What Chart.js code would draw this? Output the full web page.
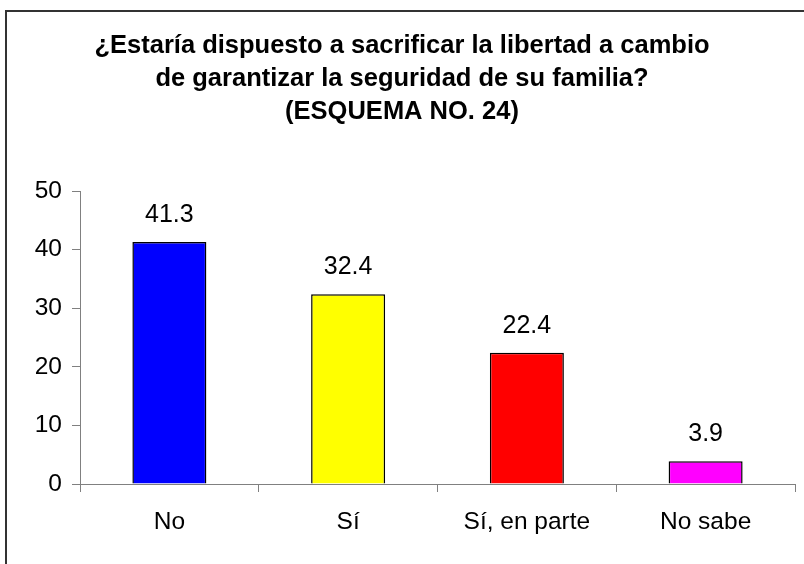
<!DOCTYPE html>
<html>
<head>
<meta charset="utf-8">
<script src="https://cdn.jsdelivr.net/npm/chart.js@4/dist/chart.umd.min.js"></script>
<style>
html,body{margin:0;padding:0;background:#fff;}
#wrap{width:804px;height:564px;position:relative;}
</style>
</head>
<body>
<div id="wrap"><canvas id="c" width="804" height="564"></canvas></div>
<script>
const categories = ["No", "Sí", "Sí, en parte", "No sabe"];
const values = [41.3, 32.4, 22.4, 3.9];
const barColors = ["#0000FF", "#FFFF00", "#FF0000", "#FF00FF"];
const titleLines = [
  "¿Estaría dispuesto a sacrificar la libertad a cambio",
  "de garantizar la seguridad de su familia?",
  "(ESQUEMA NO. 24)"
];
const yTicks = [0, 10, 20, 30, 40, 50];

const FONT = "'Liberation Sans', Arial, sans-serif";

const frameAndTitle = {
  id: 'frameAndTitle',
  beforeDraw(chart) {
    const ctx = chart.ctx;
    ctx.save();
    ctx.fillStyle = '#fff';
    ctx.fillRect(0, 0, chart.width, chart.height);
    ctx.restore();
  },
  afterDraw(chart) {
    const ctx = chart.ctx;
    ctx.save();
    ctx.strokeStyle = '#333';
    ctx.lineWidth = 2;
    ctx.strokeRect(6, 11, chart.width + 20, chart.height + 20);
    ctx.fillStyle = '#000';
    ctx.font = "bold 25.5px " + FONT;
    ctx.textAlign = 'center';
    ctx.textBaseline = 'middle';
    const ys = [46, 79, 112];
    titleLines.forEach((t, i) => ctx.fillText(t, 402, ys[i]));
    // data labels
    ctx.font = "25px " + FONT;
    ctx.textBaseline = 'alphabetic';
    const meta = chart.getDatasetMeta(0);
    meta.data.forEach((bar, i) => {
      ctx.fillText(values[i].toFixed(1), bar.x, bar.y - 20);
    });
    ctx.restore();
  }
};

new Chart(document.getElementById('c'), {
  type: 'bar',
  data: {
    labels: categories,
    datasets: [{
      data: values,
      backgroundColor: barColors,
      borderColor: '#000',
      borderWidth: 1.5,
      categoryPercentage: 1,
      barPercentage: 0.414
    }]
  },
  options: {
    responsive: false,
    animation: false,
    devicePixelRatio: 1,
    layout: { padding: { top: 191, right: 9, bottom: 0, left: 0 } },
    plugins: { legend: { display: false }, tooltip: { enabled: false }, title: { display: false } },
    scales: {
      x: {
        offset: true,
        afterFit(s) { s.height = 80; },
        grid: { offset: true, drawOnChartArea: false, drawTicks: true, tickLength: 8, color: '#808080', lineWidth: 1 },
        border: { display: true, color: '#808080', width: 1 },
        ticks: { color: '#000', font: { family: FONT, size: 24.5 }, padding: 16, maxRotation: 0 }
      },
      y: {
        min: 0, max: 50,
        afterFit(s) { s.width = 80; },
        afterBuildTicks(s) { s.ticks = yTicks.map(v => ({ value: v })); },
        grid: { drawOnChartArea: false, drawTicks: true, tickLength: 8, color: '#808080', lineWidth: 1 },
        border: { display: true, color: '#808080', width: 1 },
        ticks: { color: '#000', font: { family: FONT, size: 24.5 }, padding: 10 }
      }
    }
  },
  plugins: [frameAndTitle]
});
</script>
</body>
</html>
